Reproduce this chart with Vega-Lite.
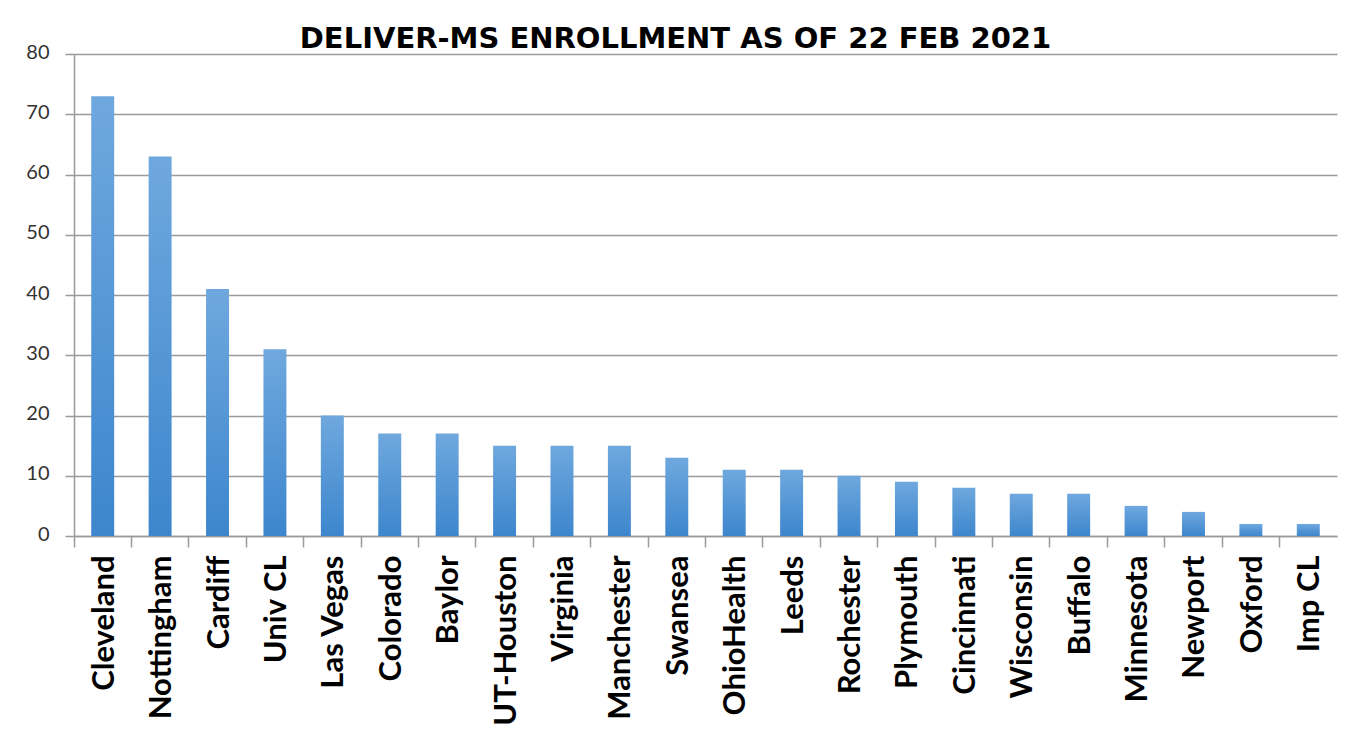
{
  "$schema": "https://vega.github.io/schema/vega-lite/v6.json",
  "autosize": {"type": "none"},
  "padding": {"left": 74, "top": 54, "right": 10, "bottom": 209},
  "width": 1263,
  "height": 482,
  "background": "white",
  "title": {
    "text": "DELIVER-MS ENROLLMENT AS OF 22 FEB 2021",
    "font": "DejaVu Sans",
    "fontSize": 29,
    "fontWeight": "bold",
    "color": "black",
    "anchor": "middle",
    "dx": -30,
    "offset": -12
  },
  "data": {
    "values": [
      {"site": "Cleveland", "n": 73},
      {"site": "Nottingham", "n": 63},
      {"site": "Cardiff", "n": 41},
      {"site": "Univ CL", "n": 31},
      {"site": "Las Vegas", "n": 20},
      {"site": "Colorado", "n": 17},
      {"site": "Baylor", "n": 17},
      {"site": "UT-Houston", "n": 15},
      {"site": "Virginia", "n": 15},
      {"site": "Manchester", "n": 15},
      {"site": "Swansea", "n": 13},
      {"site": "OhioHealth", "n": 11},
      {"site": "Leeds", "n": 11},
      {"site": "Rochester", "n": 10},
      {"site": "Plymouth", "n": 9},
      {"site": "Cincinnati", "n": 8},
      {"site": "Wisconsin", "n": 7},
      {"site": "Buffalo", "n": 7},
      {"site": "Minnesota", "n": 5},
      {"site": "Newport", "n": 4},
      {"site": "Oxford", "n": 2},
      {"site": "Imp CL", "n": 2}
    ]
  },
  "mark": {
    "type": "bar",
    "width": {"band": 0.4},
    "color": {
      "gradient": "linear",
      "x1": 0, "y1": 0, "x2": 0, "y2": 1,
      "stops": [
        {"offset": 0, "color": "#6fa8de"},
        {"offset": 1, "color": "#3d86cd"}
      ]
    }
  },
  "encoding": {
    "x": {
      "field": "site",
      "type": "nominal",
      "sort": null,
      "scale": {"paddingInner": 0, "paddingOuter": 0},
      "axis": {
        "title": null,
        "labelAngle": -90,
        "labelAlign": "right",
        "labelBaseline": "middle",
        "labelFont": "Lato",
        "labelFontWeight": "bold",
        "labelFontSize": 31,
        "labelColor": "black",
        "labelPadding": 8,
        "labelOffset": 2,
        "bandPosition": 0,
        "tickSize": 11,
        "tickColor": "#9a9a9a",
        "tickWidth": 1.5,
        "domainColor": "#9a9a9a",
        "domainWidth": 1.5,
        "grid": false
      }
    },
    "y": {
      "field": "n",
      "type": "quantitative",
      "scale": {"domain": [0, 80], "nice": false},
      "axis": {
        "title": null,
        "values": [0, 10, 20, 30, 40, 50, 60, 70, 80],
        "labelFont": "Lato",
        "labelFontSize": 20,
        "labelColor": "#333333",
        "labelPadding": 16,
        "labelOffset": -2,
        "tickSize": 9,
        "tickColor": "#9a9a9a",
        "tickWidth": 1.5,
        "domainColor": "#9a9a9a",
        "domainWidth": 1.5,
        "gridColor": "#9a9a9a",
        "gridWidth": 1.5
      }
    }
  },
  "config": {"view": {"stroke": null}}
}
